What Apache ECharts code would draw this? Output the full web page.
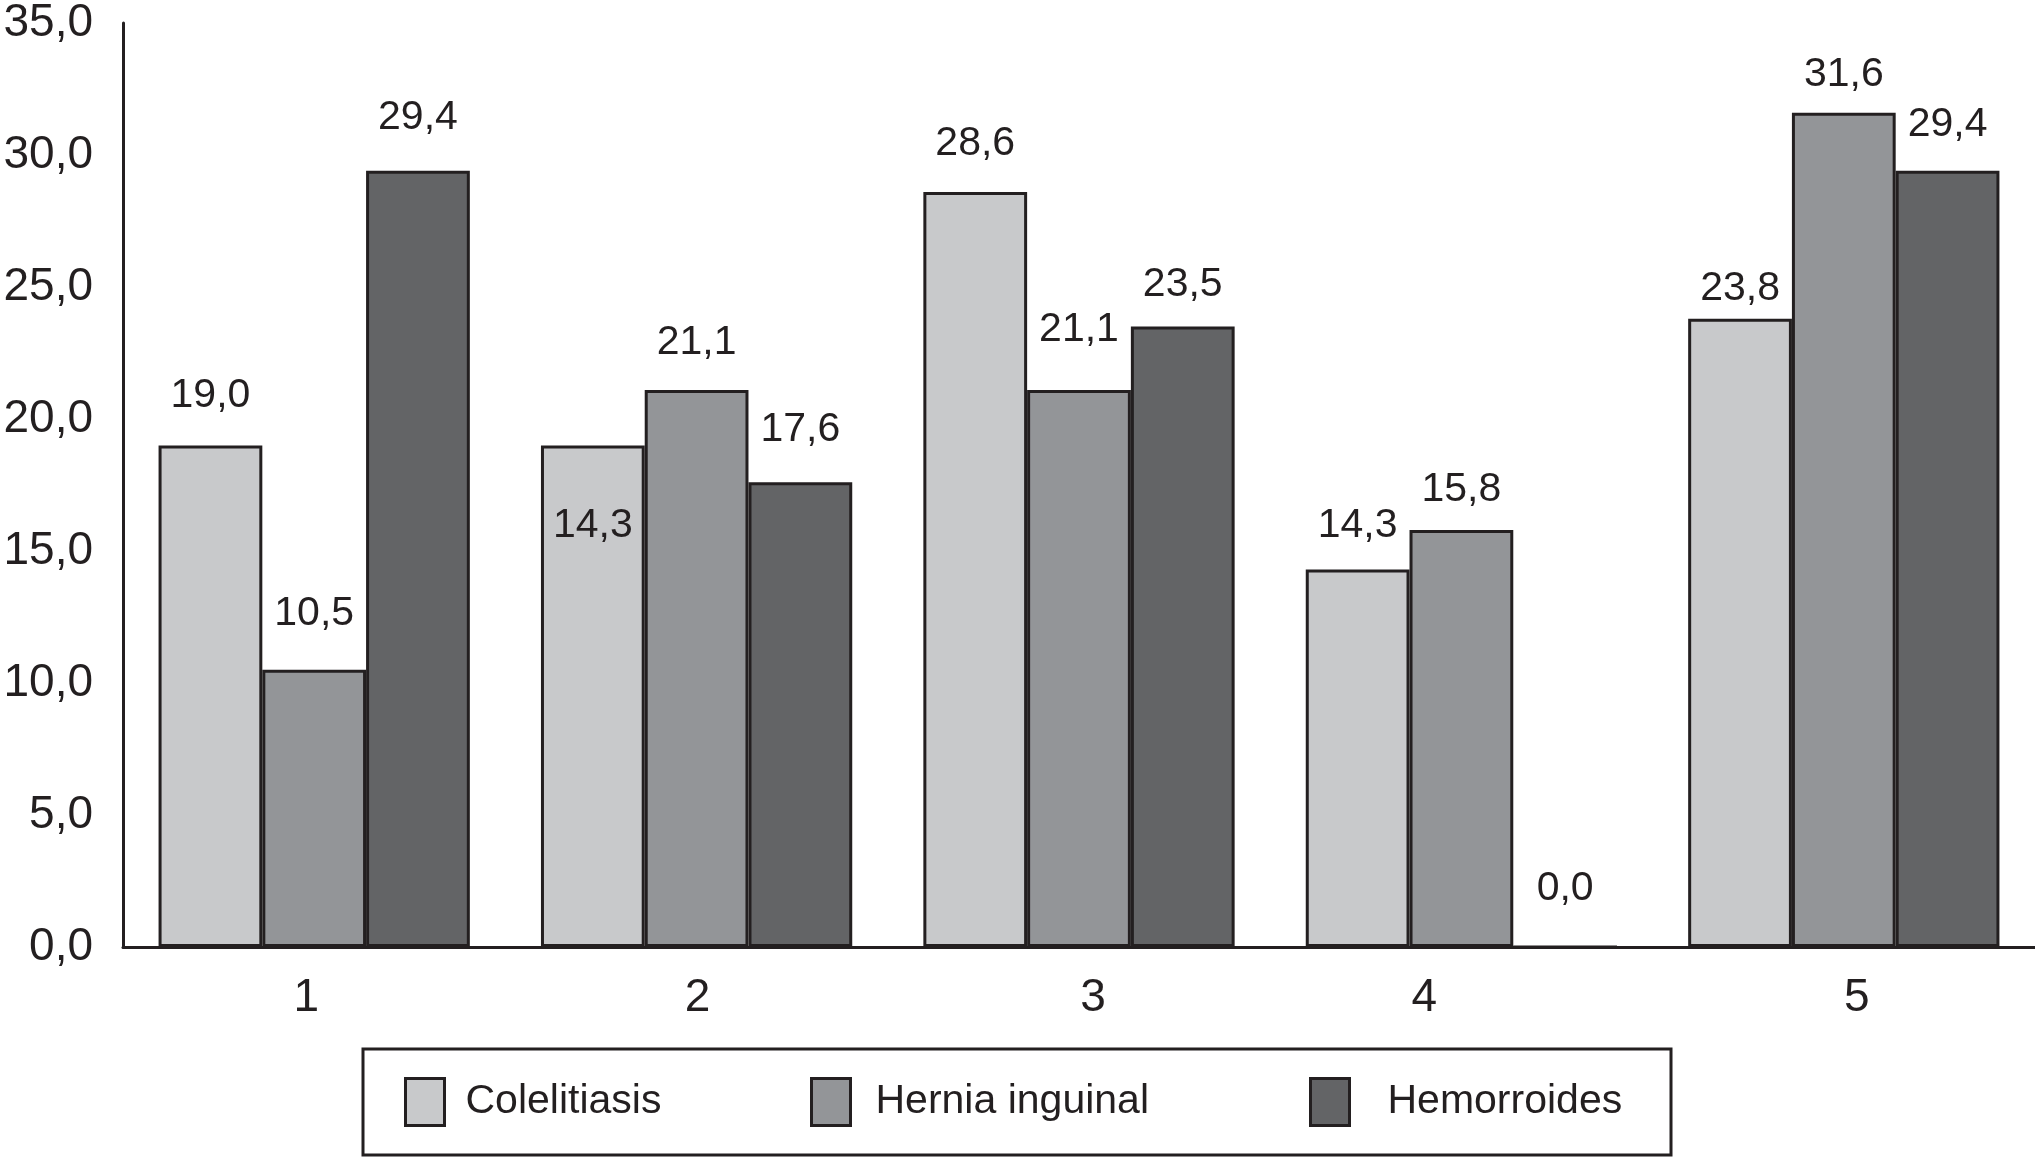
<!DOCTYPE html>
<html>
<head>
<meta charset="utf-8">
<style>
html,body{margin:0;padding:0;background:#fff;}
#chart{width:2035px;height:1158px;}
</style>
<script src="https://cdn.jsdelivr.net/npm/echarts@6/dist/echarts.min.js"></script>
</head>
<body>
<div id="chart"></div>
<script>
// ---- data ----
const categories = ['1', '2', '3', '4', '5'];
const seriesNames = ['Colelitiasis', 'Hernia inguinal', 'Hemorroides'];
const colelitiasis = [19.0, 19.0, 28.6, 14.3, 23.8];
const colelitiasisLabels = ['19,0', '14,3', '28,6', '14,3', '23,8'];
const hernia = [10.5, 21.1, 21.1, 15.8, 31.6];
const hemorroides = [29.4, 17.6, 23.5, 0.0, 29.4];
const yTickLabels = ['0,0', '5,0', '10,0', '15,0', '20,0', '25,0', '30,0', '35,0'];

// ---- styles ----
const FONT = "'Liberation Sans', Arial, Helvetica, sans-serif";
const INK = '#231f20';
const colors = ['#c8c9cb', '#939598', '#636466'];
const labelInside = [false, true, false, false, false];
// label gap above each bar (style only)
const labelGap = [
  [29, 60, 28, 23, 9],
  [36, 27, 40, 20, 18],
  [33, 32, 21, 36, 26]
];
const xLabelShift = [-8, 1, 14, -37, 13];

const fmt = v => v.toFixed(1).replace('.', ',');

function makeSeries(idx, values, labels) {
  return {
    name: seriesNames[idx],
    type: 'bar',
    barGap: '0%',
    barCategoryGap: '18.6%',
    itemStyle: { color: colors[idx], borderColor: INK, borderWidth: 3 },
    label: {
      show: true,
      position: 'top',
      distance: 26,
      fontFamily: FONT,
      fontSize: 41,
      color: INK,
      formatter: p => labels ? labels[p.dataIndex] : fmt(p.value)
    },
    data: values.map((v, i) => ({
      value: v,
      label: (idx === 0 && labelInside[i])
        ? { position: 'insideTop', distance: labelGap[idx][i] }
        : { distance: labelGap[idx][i] }
    }))
  };
}

const rich = {};
xLabelShift.forEach((d, i) => {
  rich['c' + i] = {
    fontFamily: FONT, fontSize: 46, color: INK,
    padding: [0, d < 0 ? -2 * d : 0, 0, d > 0 ? 2 * d : 0]
  };
});

const legendLeft = [399, 805, 1304];
const legendTextPad = [16, 20, 33];

const chart = echarts.init(document.getElementById('chart'), null, { renderer: 'canvas' });
chart.setOption({
  animation: false,
  backgroundColor: '#fff',
  grid: { left: 123, right: 0, top: 22, bottom: 211, containLabel: false },
  xAxis: {
    type: 'category',
    data: categories,
    axisLine: { show: true, lineStyle: { color: INK, width: 3 } },
    axisTick: { show: false },
    axisLabel: {
      margin: 28,
      formatter: (v, i) => '{c' + i + '|' + v + '}',
      rich: rich
    }
  },
  yAxis: {
    type: 'value',
    min: 0,
    max: 35,
    interval: 5,
    axisLine: { show: true, lineStyle: { color: INK, width: 3 } },
    axisTick: { show: false },
    splitLine: { show: false },
    axisLabel: {
      margin: 30,
      fontFamily: FONT,
      fontSize: 46,
      color: INK,
      formatter: v => yTickLabels[Math.round(v / 5)]
    }
  },
  legend: seriesNames.map((n, i) => ({
    data: [n],
    left: legendLeft[i],
    top: 1072,
    icon: 'rect',
    symbolKeepAspect: false,
    itemWidth: 39,
    itemHeight: 47,
    itemStyle: { borderColor: INK, borderWidth: 3 },
    textStyle: { fontFamily: FONT, fontSize: 41, color: INK, padding: [8, 0, 0, legendTextPad[i]] },
    selectedMode: false
  })),
  graphic: [{
    type: 'rect',
    shape: { x: 363, y: 1049, width: 1308, height: 106 },
    style: { fill: 'none', stroke: INK, lineWidth: 3 },
    silent: true
  }],
  series: [
    makeSeries(0, colelitiasis, colelitiasisLabels),
    makeSeries(1, hernia, null),
    makeSeries(2, hemorroides, null)
  ]
});
</script>
</body>
</html>
